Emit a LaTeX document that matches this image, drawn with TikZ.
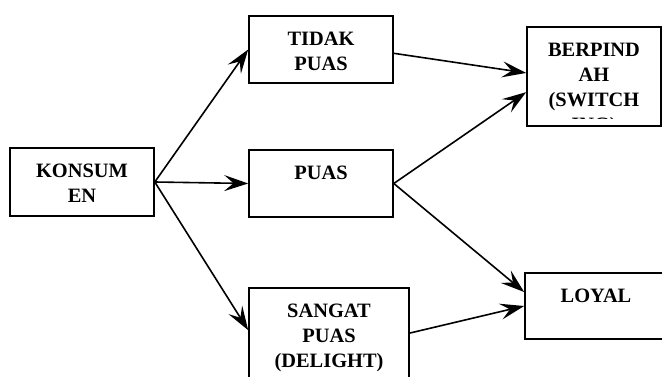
\documentclass[tikz,border=0pt]{standalone}
\usepackage{fontspec}
\setmainfont{Liberation Serif}
\usetikzlibrary{arrows.meta}

\tikzset{
  box/.style={draw, rectangle, line width=1.2pt, inner sep=0pt},
  lbl/.style={anchor=north, inner sep=0pt, align=center,
    font=\fontsize{15.3}{18.75}\selectfont\bfseries},
  arr/.style={line width=1.2pt, -{Stealth[length=18pt,width=12pt,inset=7pt]}}
}

\begin{document}
\begin{tikzpicture}[x=0.75pt,y=0.75pt,yscale=-1,xscale=1]
\useasboundingbox (0,0) rectangle (662,377);
\clip (0,0) rectangle (662,377);

% Boxes
\node (kons) [box, minimum width=108pt, minimum height=51pt] at (82,182) {};
\node (tidak) [box, minimum width=108pt, minimum height=50.25pt] at (321,49.5) {};
\node (puas) [box, minimum width=108pt, minimum height=50.25pt] at (321,183.5) {};
\node (sangat) [box, minimum width=120pt, minimum height=82.5pt] at (329,343) {};
\node (pindah) [box, minimum width=100.5pt, minimum height=74.25pt] at (594,76.5) {};
\node (loyal) [box, minimum width=106.5pt, minimum height=49.5pt] at (596,306) {};

% Text Nodes
\node (konstxt) [lbl] at (82,164) {KONSUM\\EN};
\node (tidaktxt) [lbl] at (321,32) {TIDAK\\PUAS};
\node (puastxt) [lbl] at (321,166) {PUAS};
\node (sangattxt) [lbl] at (329,304) {SANGAT\\PUAS\\(DELIGHT)};
\begin{scope}
  \clip (527,27) rectangle (661,118.5);
  \node (pindahtxt) [lbl] at (594,43) {BERPIND\\AH\\(SWITCH\\ING)};
\end{scope}
\node (loyaltxt) [lbl] at (596,289) {LOYAL};

% Arrows
\draw [arr] (kons.east) -- (tidak.west);
\draw [arr] (kons.east) -- (puas.west);
\draw [arr] (kons.east) -- (sangat.171);
\draw [arr] (tidak.-3) -- (pindah.177);
\draw [arr] (puas.east) -- (pindah.193);
\draw [arr] (puas.east) -- (loyal.169);
\draw [arr] (sangat.7) -- (loyal.west);

\end{tikzpicture}
\end{document}
